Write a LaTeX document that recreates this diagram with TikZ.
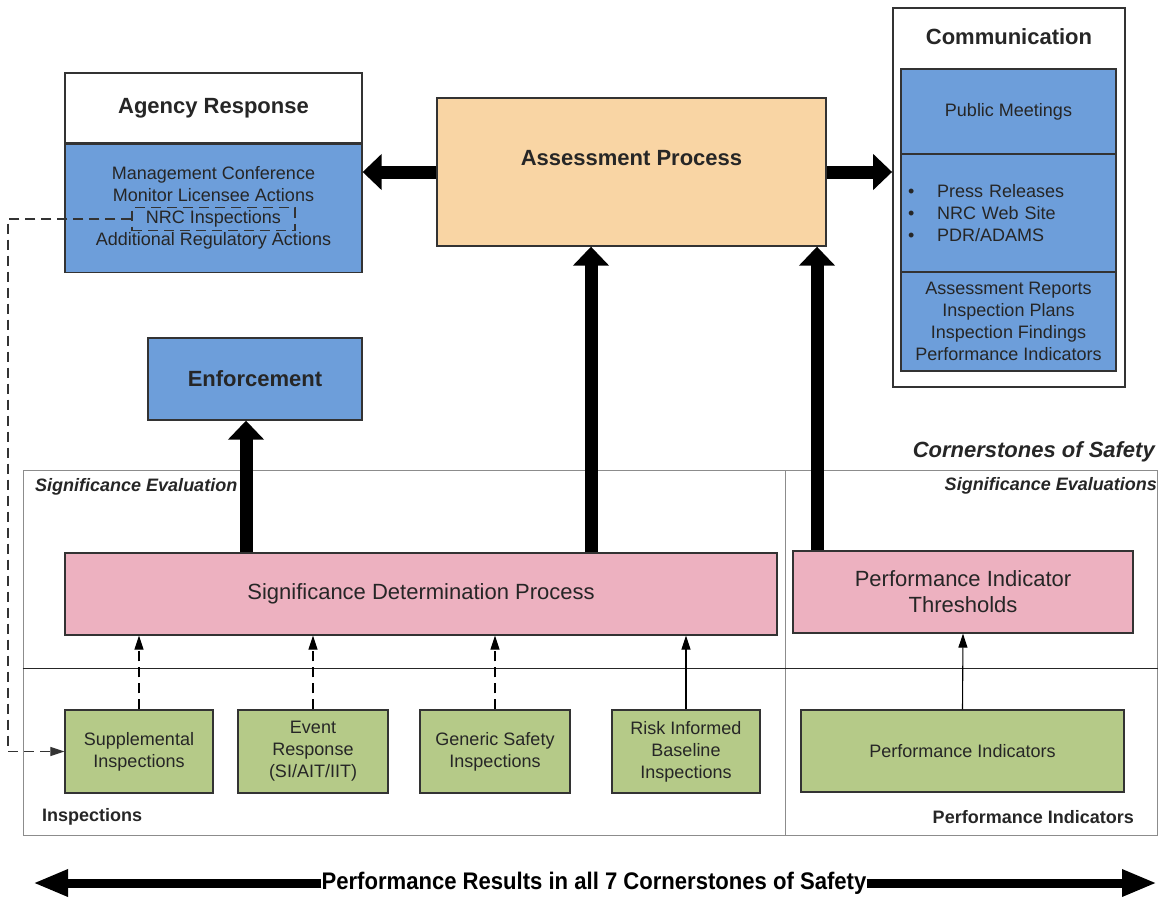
\documentclass[tikz,border=0pt]{standalone}
\usepackage{fontspec}
\setmainfont{Liberation Sans}
\newfontfamily\narrowsans[FakeStretch=0.92]{Liberation Sans}
\usetikzlibrary{arrows.meta, positioning}
\definecolor{nrcblue}{HTML}{6D9EDA}
\definecolor{nrcorange}{HTML}{F9D5A4}
\definecolor{nrcpink}{HTML}{EDB1C0}
\definecolor{nrcgreen}{HTML}{B5CA88}
\definecolor{framegray}{HTML}{8C8C8C}

\tikzset{
	box/.style={draw=black!80, line width=1.3pt, inner sep=0pt, align=center, text=black!85},
	bluebox/.style={box, fill=nrcblue},
	greenbox/.style={box, fill=nrcgreen, minimum height=83pt, font=\fontsize{18}{22}\selectfont},
	pinkbox/.style={box, fill=nrcpink, minimum height=82pt, font=\fontsize{22}{26}\selectfont},
	panel/.style={draw=framegray, line width=1pt, inner sep=0pt},
	bigarrow/.style={line width=13pt, -{Triangle[width=35pt,length=19pt]}},
	resarrow/.style={line width=9pt, -{Triangle[width=25pt,length=35pt]}},
	smallarrow/.style={line width=1.1pt, -{Triangle[width=9pt,length=14pt]}},
	dashline/.style={dashed, dash pattern=on 10pt off 6pt, line width=1.2pt},
	headfont/.style={font=\fontsize{22}{26}\selectfont\bfseries},
	bodyfont/.style={font=\fontsize{18}{22}\selectfont},
	tagfont/.style={font=\fontsize{18}{22}\selectfont\bfseries\itshape, text=black!85, inner sep=0pt},
}

\begin{document}
\begin{tikzpicture}[x=1pt, y=-1pt]
	\useasboundingbox (0,0) rectangle (1159,897);
	% cornerstone panels
	\node[panel, minimum width=762pt, minimum height=198pt] (sigleft) at (404,569) {};
	\node[panel, minimum width=762pt, minimum height=167pt] (inspleft) at (404,751.5) {};
	\node[panel, minimum width=372pt, minimum height=198pt] (sigright) at (971,569) {};
	\node[panel, minimum width=372pt, minimum height=167pt] (piright) at (971,751.5) {};
	\draw[line width=1.3pt, black!85] (sigleft.south west) -- (sigright.south east);
	\node[tagfont, font=\fontsize{22}{26}\selectfont\bfseries\itshape, anchor=east] (cornerstones) at (1155,452) {Cornerstones of Safety};
	\node[tagfont, anchor=west] (sigevalleft) at (35,487) {Significance Evaluation};
	\node[tagfont, anchor=east] (sigevalright) at (1157,486) {Significance Evaluations};
	\node[tagfont, font=\fontsize{18}{22}\selectfont\bfseries, anchor=west] (insplabel) at (42,817) {Inspections};
	\node[tagfont, font=\fontsize{18}{22}\selectfont\bfseries, anchor=east] (pilabel) at (1134,817) {Performance Indicators};

	% agency response
	\node[box, fill=white, minimum width=297pt, minimum height=70pt, headfont] (agencyhead) at (213.5,108) {Agency Response};
	\node[bluebox, bodyfont, minimum width=297pt, minimum height=128pt, below=0pt of agencyhead] (agencybody) {Management Conference\\Monitor Licensee Actions\\NRC Inspections\\Additional Regulatory Actions};
	\node[draw=black!80, dashline, minimum width=163pt, minimum height=23pt] (nrc) at (213.5,219) {};

	% assessment
	\node[box, fill=nrcorange, minimum width=389pt, minimum height=148pt] (assess) at (631.5,172) {};
	\node[headfont, text=black!85] (assesstitle) at (631.5,158) {Assessment Process};

	% communication
	\node[box, fill=white, line width=1.8pt, minimum width=232pt, minimum height=379pt] (comm) at (1009,197.5) {};
	\node[headfont, text=black!85] (commtitle) at (1009,37) {Communication};
	\node[bluebox, bodyfont, minimum width=215pt, minimum height=85pt] (meetings) at (1008.5,111.5) {Public Meetings};
	\node[bluebox, bodyfont, minimum width=215pt, minimum height=118pt, text width=201pt, align=left, inner xsep=7pt] (media) at (1008.5,213)
		{\makebox[29pt][l]{\textbullet}Press Releases\\\makebox[29pt][l]{\textbullet}NRC Web Site\\\makebox[29pt][l]{\textbullet}PDR/ADAMS};
	\node[bluebox, bodyfont, minimum width=215pt, minimum height=99pt] (reports) at (1008.5,321.5) {Assessment Reports\\Inspection Plans\\Inspection Findings\\Performance Indicators};

	% enforcement
	\node[bluebox, headfont, minimum width=214pt, minimum height=82pt] (enforce) at (255,379) {Enforcement};

	% significance evaluation
	\node[pinkbox, minimum width=712pt] (sdp) at (421,594) {Significance Determination Process};
	\node[pinkbox, minimum width=340pt] (pit) at (963,592) {Performance Indicator\\Thresholds};

	% inspections and indicators
	\node[greenbox, minimum width=148pt] (supp) at (139,751.5) {Supplemental\\Inspections};
	\node[greenbox, minimum width=150pt] (event) at (313,751.5) {Event\\Response\\(SI/AIT/IIT)};
	\node[greenbox, minimum width=150pt] (generic) at (495,751.5) {Generic Safety\\Inspections};
	\node[greenbox, minimum width=148pt] (risk) at (686,751.5) {Risk Informed\\Baseline\\Inspections};
	\node[greenbox, minimum width=323pt, minimum height=82pt] (pind) at (962.5,751) {Performance Indicators};

	% arrows
	\draw[smallarrow, dashline] (supp.north) -- (supp.north |- sdp.south);
	\draw[smallarrow, dashline] (event.north) -- (event.north |- sdp.south);
	\draw[smallarrow, dashline] (generic.north) -- (generic.north |- sdp.south);
	\draw[smallarrow] (risk.north) -- (risk.north |- sdp.south);
	\draw[smallarrow] (pind.north) -- (pit.south);

	\coordinate (enfcol) at (246,0);
	\coordinate (sdpcol) at (591,0);
	\coordinate (pitcol) at (817,0);
	\draw[bigarrow] (sdp.north -| enfcol) -- (enforce.south -| enfcol);
	\draw[bigarrow] (sdp.north -| sdpcol) -- (assess.south -| sdpcol);
	\draw[bigarrow] (pit.north -| pitcol) -- (assess.south -| pitcol);
	\draw[bigarrow] (assess.west) -- (assess.west -| agencybody.east);
	\draw[bigarrow] (assess.east) -- (assess.east -| comm.west);

	\coordinate (nrcbend) at (8,219);
	\draw[dashline, black!80, -{Triangle[width=9pt,length=14pt]}] (nrc.west) -- (nrcbend) |- (supp.west);

	% results
	\node[font=\narrowsans\fontsize{24}{28}\selectfont\bfseries, fill=white, inner sep=0pt] (results) at (594,883) {Performance Results in all 7 Cornerstones of Safety};
	\coordinate (resleft) at (33,883);
	\coordinate (resright) at (1157,883);
	\draw[resarrow] (results.west) -- (resleft);
	\draw[resarrow] (results.east) -- (resright);
\end{tikzpicture}
\end{document}
